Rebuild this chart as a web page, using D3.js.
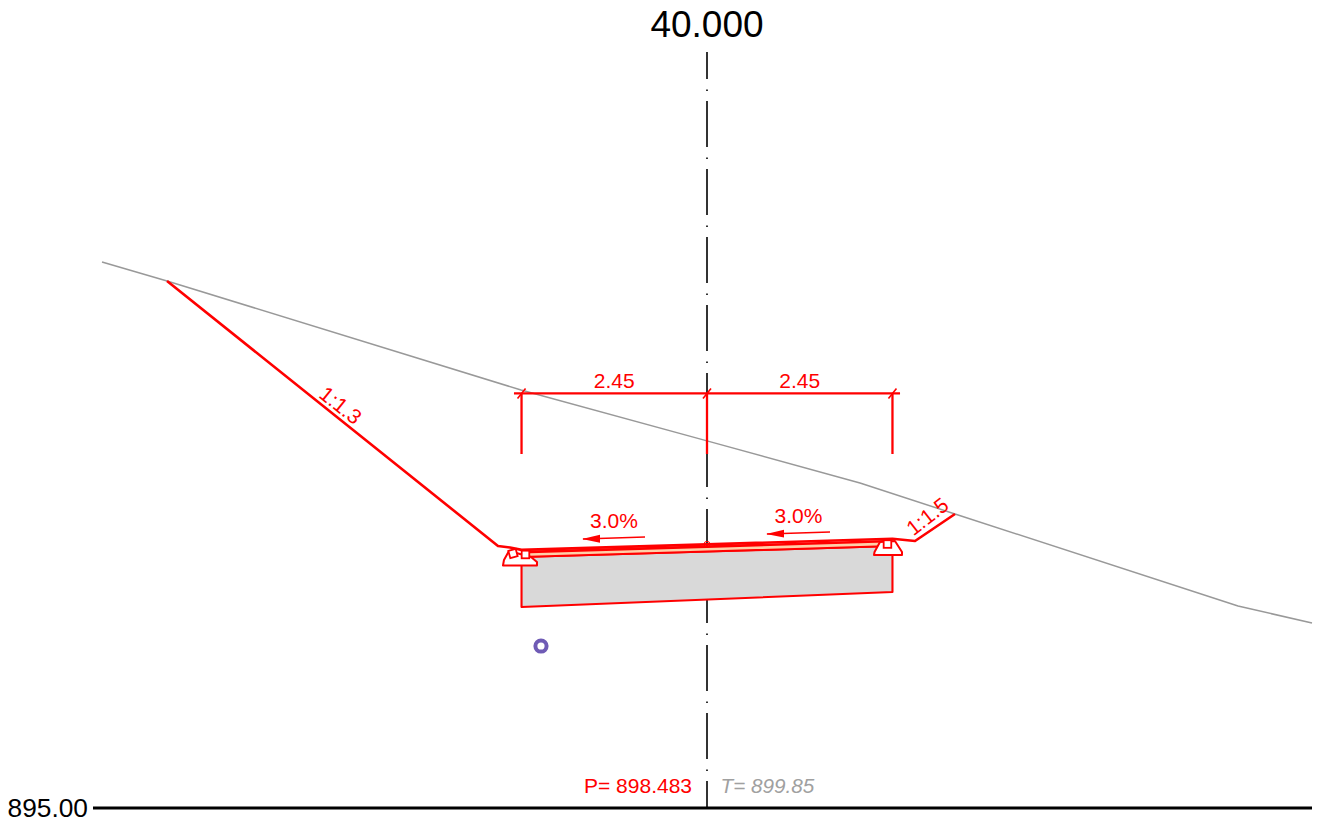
<!DOCTYPE html>
<html><head><meta charset="utf-8">
<script src="https://cdn.jsdelivr.net/npm/d3@7"></script>
<style>html,body{margin:0;padding:0;background:#fff}svg{display:block}text{font-family:"Liberation Sans",Arial,sans-serif}</style>
</head><body><div id="c"></div>
<script>
// offset from axis (m), elevation (m)
const terrain=[[-7.992,902.213],[-7.133,901.962],[-2.457,900.522],[0,899.85],[2.021,899.293],[3.276,898.884],[7.015,897.668],[7.992,897.444]];
const profile=[[-7.133,901.962],[-2.761,898.461],[-2.602,898.441],[-2.45,898.41],[0,898.483],[2.45,898.557],[2.748,898.527],[3.276,898.884]];
const layerTop=[[-2.45,898.38],[0,898.453],[2.45,898.527]];
const layerBase=[[-2.45,898.316],[0,898.388],[2.45,898.461]];
const slabBottom=[[-2.45,897.655],[2.45,897.853]];
const railLeft=[[-2.695,898.203],[-2.682,898.276],[-2.616,898.395],[-2.325,898.316],[-2.246,898.250],[-2.246,898.203]];
const railRight=[[2.206,898.342],[2.213,898.382],[2.285,898.514],[2.483,898.527],[2.576,898.382],[2.576,898.342]];
const pads=[[-2.563,898.362,-15],[-2.398,898.349,0],[2.384,898.487,0]];
const dimOffsets=[-2.45,0,2.45];
const dimElev=900.476, dimFoot=899.676;
const dimLabels=["2.45","2.45"];
const crossArrows=[[[-0.819,898.58],[-1.638,898.553]],[[1.625,898.646],[0.793,898.62]]];
const crossLabels=["3.0%","3.0%"];
const slopeLabels=["1:1.3","1:1.5"];
const marker=[-2.193,897.14];
const station="40.000", datum=895, datumLabel="895.00";
const levelP="P= 898.483", levelT="T= 899.85";

const W=1320,H=829,K=75.7;
const x=d3.scaleLinear().domain([0,1]).range([707,707+K]);
const y=d3.scaleLinear().domain([895,896]).range([808,808-K]);
const line=d3.line().x(d=>x(d[0])).y(d=>y(d[1]));
const RED="#ff0000";
const svg=d3.select("#c").append("svg").attr("width",W).attr("height",H);
const path=(d,c,w,f)=>svg.append("path").attr("d",d).attr("fill",f||"none").attr("stroke",c).attr("stroke-width",w).attr("stroke-linejoin","round");
const txt=(s,px,py,size,fill,anchor,extra)=>{const t=svg.append("text").attr("x",px).attr("y",py).attr("font-size",size).attr("fill",fill).attr("text-anchor",anchor||"middle").text(s);if(extra)extra(t);return t;};

// centre line
svg.append("line").attr("x1",x(0)).attr("x2",x(0)).attr("y1",52).attr("y2",y(datum))
 .attr("stroke","#333").attr("stroke-width",2).attr("stroke-dasharray","46 10.5 1.5 10").attr("stroke-dashoffset",19);

// slab
const slab=[...layerBase,slabBottom[1],slabBottom[0]];
path(line(slab)+"Z",RED,2.1,"#d9d9d9");
// peach layer
path(line([...layerTop,...layerBase.slice().reverse()])+"Z","none",0,"#ffcfa8");
path(line(layerBase),RED,2);
path(line(layerTop),RED,2.6);
// axis point
svg.append("circle").attr("cx",x(0)).attr("cy",y(898.483)).attr("r",3).attr("fill","none").attr("stroke",RED).attr("stroke-width",1);
// terrain
path(line(terrain),"#999999",1.5);
// pavement and slopes
path(line(profile),RED,2.6);
// rails
[railLeft,railRight].forEach(r=>path(line(r)+"Z",RED,2,"#fff"));
svg.selectAll("rect.pad").data(pads).join("rect").attr("class","pad")
 .attr("x",-3.8).attr("y",-3.8).attr("width",7.6).attr("height",7.6)
 .attr("transform",d=>`translate(${x(d[0])},${y(d[1])}) rotate(${d[2]})`)
 .attr("fill","#fff").attr("stroke",RED).attr("stroke-width",1.8);

// dimensions
path(line([[dimOffsets[0]-0.1,dimElev],[dimOffsets[2]+0.1,dimElev]]),RED,2.2);
dimOffsets.forEach(o=>{
  path(line([[o,dimElev],[o,dimFoot]]),RED,2.3);
  svg.append("line").attr("x1",x(o)-4).attr("y1",y(dimElev)+5).attr("x2",x(o)+4).attr("y2",y(dimElev)-5).attr("stroke",RED).attr("stroke-width",1.6);
});
dimLabels.forEach((s,i)=>txt(s,(x(dimOffsets[i])+x(dimOffsets[i+1]))/2,y(dimElev)-5.5,21,RED));

// crossfall arrows
crossArrows.forEach((a,i)=>{
  path(line(a),RED,1.5);
  const tx=x(a[1][0]),ty=y(a[1][1]);
  svg.append("path").attr("d",`M${tx-1},${ty}L${tx+17},${ty-4.2}L${tx+17},${ty+3.6}Z`).attr("fill",RED);
  txt(crossLabels[i],(x(a[0][0])+x(a[1][0]))/2,y(a[0][1])-9,21,RED);
});

// slope labels
const s1=[x(-4.9),y(900.245)], s2=[x(2.97),y(898.775)];
txt(slopeLabels[0],s1[0],s1[1],21,RED,"middle",t=>t.attr("transform",`rotate(38.6 ${s1[0]} ${s1[1]})`));
txt(slopeLabels[1],s2[0],s2[1],21,RED,"middle",t=>t.attr("transform",`rotate(-38 ${s2[0]} ${s2[1]})`));

// marker
svg.append("circle").attr("cx",x(marker[0])).attr("cy",y(marker[1])).attr("r",5.6).attr("fill","#fff").attr("stroke","#6f5bb5").attr("stroke-width",4);

// datum
svg.append("line").attr("x1",93).attr("x2",1312).attr("y1",y(datum)).attr("y2",y(datum)).attr("stroke","#000").attr("stroke-width",2.8);
txt(datumLabel,88,y(datum)+9,26.3,"#000","end");
txt(station,x(0),37,37,"#000");
txt(levelP,692,793,21,RED,"end");
txt(levelT,720.5,793,20.7,"#a0a0a0","start",t=>t.attr("font-style","italic"));
</script></body></html>
